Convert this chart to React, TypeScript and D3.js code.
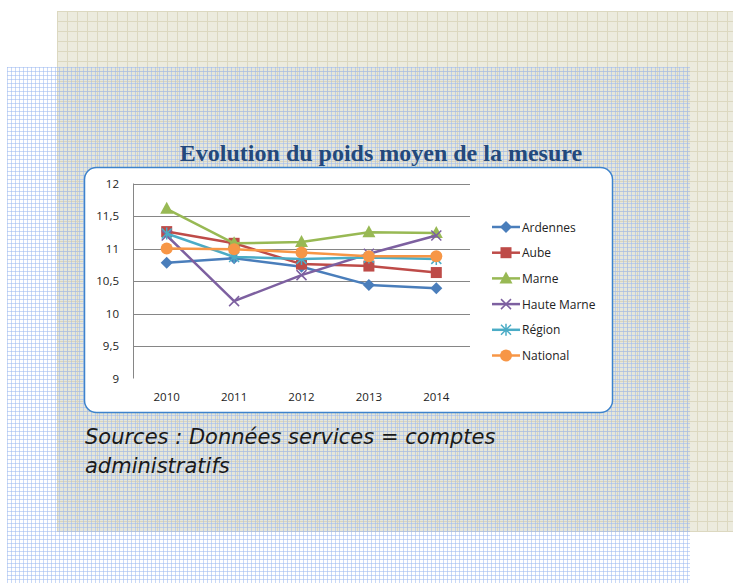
import React, { useEffect, useRef } from "react";
import * as d3 from "d3";

const years = ["2010", "2011", "2012", "2013", "2014"];
const yTicks = [9, 9.5, 10, 10.5, 11, 11.5, 12];

const ardennes = [10.78, 10.85, 10.72, 10.44, 10.39];
const aube = [11.26, 11.08, 10.76, 10.73, 10.63];
const marne = [11.61, 11.08, 11.1, 11.25, 11.24];
const hauteMarne = [11.2, 10.19, 10.59, 10.92, 11.2];
const region = [11.23, 10.87, 10.84, 10.86, 10.84];
const national = [11.0, 10.99, 10.94, 10.88, 10.88];

const seriesNames = ["Ardennes", "Aube", "Marne", "Haute Marne", "Région", "National"];
const seriesValues = [ardennes, aube, marne, hauteMarne, region, national];
const seriesColors = ["#4a7ebb", "#be4b48", "#98b954", "#7d60a0", "#4bacc6", "#f79646"];
const seriesMarkers = ["diamond", "square", "triangle", "cross", "star", "circle"];

const App: React.FC = () => {
  const ref = useRef<SVGSVGElement | null>(null);

  useEffect(() => {
    if (!ref.current) return;
    const svg = d3.select(ref.current);
    svg.selectAll("*").remove();

    const defs = svg.append("defs");

    // beige squared paper
    const beige = defs
      .append("pattern")
      .attr("id", "beige")
      .attr("patternUnits", "userSpaceOnUse")
      .attr("x", 57)
      .attr("y", 11)
      .attr("width", 10)
      .attr("height", 10);
    beige.append("rect").attr("width", 10).attr("height", 10).attr("fill", "#ecebde");
    beige.append("rect").attr("width", 10).attr("height", 1).attr("fill", "#dcd8c0");
    beige.append("rect").attr("width", 1).attr("height", 10).attr("fill", "#dcd8c0");

    // fine blue grid
    const blue = defs
      .append("pattern")
      .attr("id", "blue")
      .attr("patternUnits", "userSpaceOnUse")
      .attr("x", 7)
      .attr("y", 67)
      .attr("width", 4)
      .attr("height", 4);
    blue.append("rect").attr("width", 4).attr("height", 1).attr("fill", "#9dbaf0").attr("opacity", 0.55);
    blue.append("rect").attr("width", 1).attr("height", 4).attr("fill", "#9dbaf0").attr("opacity", 0.55);

    svg.append("rect").attr("x", 57).attr("y", 11).attr("width", 676).attr("height", 521).attr("fill", "url(#beige)");
    // slight grey tint where the blue sheet lies on the beige one
    svg.append("rect").attr("x", 57).attr("y", 67).attr("width", 633).attr("height", 465).attr("fill", "#c8c8bc").attr("opacity", 0.15);
    svg.append("rect").attr("x", 7).attr("y", 67).attr("width", 683).attr("height", 516).attr("fill", "url(#blue)");

    // title
    svg
      .append("text")
      .attr("x", 381)
      .attr("y", 161)
      .attr("text-anchor", "middle")
      .style("font-family", "'Liberation Serif', serif")
      .style("font-weight", "bold")
      .style("font-size", "24px")
      .attr("fill", "#23497c")
      .text("Evolution du poids moyen de la mesure");

    // chart box
    svg
      .append("rect")
      .attr("x", 84.5)
      .attr("y", 167.5)
      .attr("width", 528)
      .attr("height", 245)
      .attr("rx", 12)
      .attr("fill", "#ffffff")
      .attr("stroke", "#3d83cc")
      .attr("stroke-width", 1.5);

    const x = d3.scaleBand<string>().domain(years).range([133, 470]);
    const y = d3.scaleLinear().domain([9, 12]).range([378.5, 183.5]);
    const fmt = (v: number) => String(v).replace(".", ",");

    const g = svg.append("g");

    g.selectAll("line.grid")
      .data(yTicks)
      .enter()
      .append("line")
      .attr("x1", 133)
      .attr("x2", 470)
      .attr("y1", (d) => Math.round(y(d)) + 0.5)
      .attr("y2", (d) => Math.round(y(d)) + 0.5)
      .attr("stroke", (d) => (d === 9 ? "none" : "#868686"))
      .attr("stroke-width", 1);

    g.append("line")
      .attr("x1", 133.5)
      .attr("x2", 133.5)
      .attr("y1", y(12))
      .attr("y2", y(9))
      .attr("stroke", "#868686");

    g.selectAll("text.ytick")
      .data(yTicks)
      .enter()
      .append("text")
      .attr("x", 119)
      .attr("y", (d) => y(d) + 4)
      .attr("text-anchor", "end")
      .style("font-family", "'Open Sans', sans-serif")
      .style("font-size", "11.5px")
      .attr("fill", "#222")
      .text(fmt);

    g.selectAll("text.xtick")
      .data(years)
      .enter()
      .append("text")
      .attr("x", (d) => (x(d) as number) + x.bandwidth() / 2)
      .attr("y", 401)
      .attr("text-anchor", "middle")
      .style("font-family", "'Open Sans', sans-serif")
      .style("font-size", "11.5px")
      .attr("fill", "#222")
      .text((d) => d);

    const drawMarker = (
      parent: d3.Selection<SVGGElement, unknown, null, undefined>,
      kind: string,
      cx: number,
      cy: number,
      color: string
    ) => {
      if (kind === "diamond") {
        parent.append("path").attr("d", `M${cx},${cy - 6}L${cx + 6},${cy}L${cx},${cy + 6}L${cx - 6},${cy}Z`).attr("fill", color);
      } else if (kind === "square") {
        parent.append("rect").attr("x", cx - 5.5).attr("y", cy - 5.5).attr("width", 11).attr("height", 11).attr("fill", color);
      } else if (kind === "triangle") {
        parent.append("path").attr("d", `M${cx},${cy - 7}L${cx + 6.5},${cy + 5}L${cx - 6.5},${cy + 5}Z`).attr("fill", color);
      } else if (kind === "circle") {
        parent.append("circle").attr("cx", cx).attr("cy", cy).attr("r", 6).attr("fill", color);
      } else if (kind === "cross") {
        parent
          .append("path")
          .attr("d", `M${cx - 5},${cy - 5}L${cx + 5},${cy + 5}M${cx - 5},${cy + 5}L${cx + 5},${cy - 5}`)
          .attr("stroke", color)
          .attr("stroke-width", 1.5);
      } else if (kind === "star") {
        parent
          .append("path")
          .attr(
            "d",
            `M${cx - 5},${cy - 5}L${cx + 5},${cy + 5}M${cx - 5},${cy + 5}L${cx + 5},${cy - 5}M${cx},${cy - 6}L${cx},${cy + 6}`
          )
          .attr("stroke", color)
          .attr("stroke-width", 1.5);
      }
    };

    const line = d3
      .line<number>()
      .x((_, i) => (x(years[i]) as number) + x.bandwidth() / 2)
      .y((d) => y(d));

    seriesValues.forEach((vals, si) => {
      const sg = g.append("g");
      sg.append("path")
        .attr("d", line(vals) as string)
        .attr("fill", "none")
        .attr("stroke", seriesColors[si])
        .attr("stroke-width", 2.5)
        .attr("stroke-linejoin", "round");
      vals.forEach((v, i) => {
        drawMarker(sg, seriesMarkers[si], (x(years[i]) as number) + x.bandwidth() / 2, y(v), seriesColors[si]);
      });
    });

    // legend
    const legend = svg.append("g").attr("transform", "translate(492, 227)");
    seriesNames.forEach((name, i) => {
      const row = legend.append("g").attr("transform", `translate(0, ${i * 25.7})`);
      row.append("line").attr("x1", 0).attr("x2", 28).attr("y1", 0).attr("y2", 0).attr("stroke", seriesColors[i]).attr("stroke-width", 2.5);
      drawMarker(row, seriesMarkers[i], 14, 0, seriesColors[i]);
      row
        .append("text")
        .attr("x", 30)
        .attr("y", 4.5)
        .style("font-family", "'Open Sans', sans-serif")
        .style("font-size", "12px")
        .attr("fill", "#222")
        .text(name);
    });

    // sources note
    const note = svg
      .append("text")
      .style("font-family", "'DejaVu Sans', sans-serif")
      .style("font-style", "italic")
      .style("font-size", "21px")
      .attr("fill", "#1a1a1a");
    note.append("tspan").attr("x", 85).attr("y", 444).text("Sources : Données services = comptes");
    note.append("tspan").attr("x", 85).attr("y", 473).text("administratifs");

    return () => {
      d3.select(ref.current).selectAll("*").remove();
    };
  }, []);

  return (
    <div style={{ position: "absolute", left: 0, top: 0 }}>
      <svg ref={ref} width={733} height={583} style={{ display: "block" }}></svg>
    </div>
  );
};

export default App;
